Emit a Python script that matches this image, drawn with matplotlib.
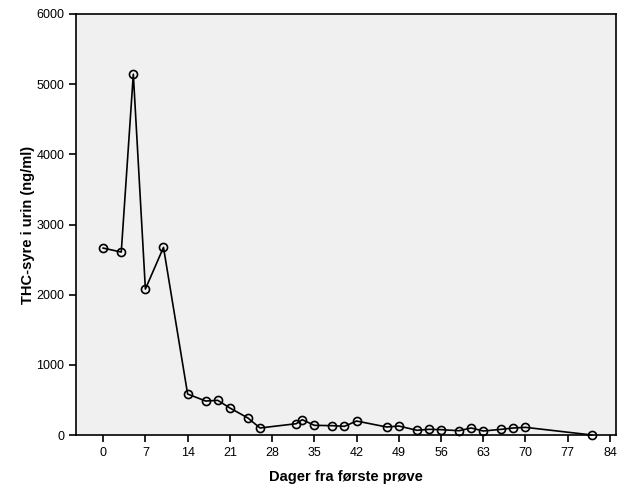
import matplotlib
matplotlib.use("Agg")
import matplotlib.pyplot as plt

plt.rcParams['font.family'] = ['Liberation Sans', 'DejaVu Sans']

# dager fra foerste proeve og THC-syre (ng/ml)
days = [0, 3, 5, 7, 10, 14, 17, 19, 21, 24, 26, 32, 33, 35, 38, 40, 42,
        47, 49, 52, 54, 56, 59, 61, 63, 66, 68, 70, 81]
thc = [2664, 2607, 5142, 2080, 2674, 584, 484, 494, 385, 242, 100, 161, 218,
       138, 133, 124, 199, 114, 128, 67, 81, 76, 61, 100, 57, 81, 100, 109, 0]
xticks = list(range(0, 85, 7))
yticks = [0, 1000, 2000, 3000, 4000, 5000, 6000]

fig = plt.figure(figsize=(6.25, 5), dpi=100)
ax = fig.add_axes([0.1216, 0.13, 0.864, 0.842])
ax.set_facecolor('#f0f0f0')

ax.plot(days, thc, color='black', linewidth=1.2, marker='o', markersize=5.8,
        markerfacecolor='none', markeredgecolor='black', markeredgewidth=1.2,
        clip_on=False, zorder=3)

ax.set_xlim(-4.5, 85)
ax.set_ylim(0, 6000)
ax.set_xticks(xticks)
ax.set_yticks(yticks)
ax.tick_params(direction='out', length=5, width=1.2, labelsize=9, colors='black')
for s in ax.spines.values():
    s.set_linewidth(1.2)

ax.set_xlabel('Dager fra første prøve', fontsize=10.5, fontweight='bold', labelpad=8)
ax.set_ylabel('THC-syre i urin (ng/ml)', fontsize=10.5, fontweight='bold', labelpad=1)

fig.savefig('out.png', dpi=100)
